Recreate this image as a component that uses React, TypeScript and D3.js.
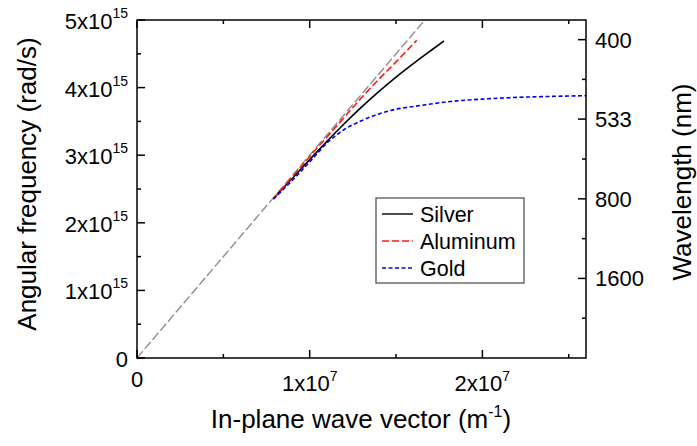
import React from "react";
import * as d3 from "d3";

// wave vector in 1e7 m^-1, angular frequency in 1e15 rad/s
const silverK = [0.79, 0.9, 1.0, 1.1, 1.2, 1.3, 1.4, 1.5, 1.6, 1.7, 1.778];
const silverW = [2.36, 2.66, 2.935, 3.205, 3.465, 3.71, 3.94, 4.155, 4.355, 4.545, 4.69];

const aluminumK = [0.79, 0.9, 1.0, 1.1, 1.2, 1.3, 1.407, 1.5, 1.62];
const aluminumW = [2.36, 2.68, 2.98, 3.27, 3.56, 3.85, 4.14, 4.38, 4.7];

const goldK = [0.79, 0.9, 1.0, 1.1, 1.2, 1.3, 1.4, 1.5, 1.6, 1.8, 2.0, 2.2, 2.4, 2.6];
const goldW = [2.35, 2.63, 2.9, 3.18, 3.38, 3.51, 3.61, 3.68, 3.72, 3.79, 3.83, 3.855, 3.87, 3.88];

// light line omega = c k
const lightK = [0, 2.6];
const lightW = [0, 7.8];

const xMajor = [0, 1, 2];
const xMinor = [0.5, 1.5, 2.5];
const yMajor = [0, 1, 2, 3, 4, 5];
const yMinor = [0.5, 1.5, 2.5, 3.5, 4.5];
const lambdaMajor = [400, 533, 800, 1600];
const lambdaMinor = [457, 640, 1067, 3200];

const legendNames = ["Silver", "Aluminum", "Gold"];

const W = 697;
const H = 446;
const m = { left: 137, right: 586, top: 20, bottom: 358 };
const font = "Arial, 'Liberation Sans', sans-serif";

// omega (1e15 rad/s) for a wavelength in nm
const omegaOf = (nm: number) => (2 * Math.PI * 2.998e8) / (nm * 1e-9) / 1e15;

const App = () => {
  const x = d3.scaleLinear().domain([0, 2.6]).range([m.left, m.right]);
  const y = d3.scaleLinear().domain([0, 5]).range([m.bottom, m.top]);

  const line = d3
    .line<[number, number]>()
    .x((d) => x(d[0]))
    .y((d) => y(d[1]))
    .curve(d3.curveMonotoneX);

  const pts = (ks: number[], ws: number[]) => ks.map((k, i) => [k, ws[i]] as [number, number]);

  const series = [
    { name: "Silver", d: pts(silverK, silverW), color: "#000000", dash: "none", w: 1.6 },
    { name: "Aluminum", d: pts(aluminumK, aluminumW), color: "#ff1a1a", dash: "7,3", w: 1.6 },
    { name: "Gold", d: pts(goldK, goldW), color: "#0000ff", dash: "4,2.5", w: 1.6 },
  ];

  const lx = 376;
  const ly = 198;

  return (
    <svg
      width={W}
      height={H}
      style={{ position: "absolute", left: 0, top: 0, background: "#fff" }}
      fontFamily={font}
    >
      <defs>
        <clipPath id="plot">
          <rect x={m.left} y={m.top} width={m.right - m.left} height={m.bottom - m.top} />
        </clipPath>
      </defs>

      {/* light line */}
      <path
        d={line(pts(lightK, lightW)) || ""}
        fill="none"
        stroke="#8c8c8c"
        strokeWidth={1.4}
        strokeDasharray="9,3"
        clipPath="url(#plot)"
      />

      {series.map((s) => (
        <path
          key={s.name}
          d={line(s.d) || ""}
          fill="none"
          stroke={s.color}
          strokeWidth={s.w}
          strokeDasharray={s.dash}
          clipPath="url(#plot)"
        />
      ))}

      {/* frame */}
      <rect
        x={m.left}
        y={m.top}
        width={m.right - m.left}
        height={m.bottom - m.top}
        fill="none"
        stroke="#000"
        strokeWidth={1.5}
      />

      {/* x ticks, bottom and top */}
      {xMajor.concat(xMinor).map((v) => {
        const len = xMajor.includes(v) ? 8 : 4;
        return (
          <g key={"xt" + v}>
            <line x1={x(v)} x2={x(v)} y1={m.bottom} y2={m.bottom - len} stroke="#000" strokeWidth={1.5} />
            <line x1={x(v)} x2={x(v)} y1={m.top} y2={m.top + len} stroke="#000" strokeWidth={1.5} />
          </g>
        );
      })}
      {xMajor.map((v) =>
        v === 0 ? (
          <text key={"xl" + v} x={x(v)} y={387} fontSize={22} textAnchor="middle">
            0
          </text>
        ) : (
          <text key={"xl" + v} x={x(v)} y={391} fontSize={22} textAnchor="middle">
            {v}x10
            <tspan fontSize={14} dy={-10}>
              7
            </tspan>
          </text>
        )
      )}

      {/* left y ticks */}
      {yMajor.concat(yMinor).map((v) => {
        const len = yMajor.includes(v) ? 8 : 4;
        return (
          <line key={"yt" + v} x1={m.left} x2={m.left + len} y1={y(v)} y2={y(v)} stroke="#000" strokeWidth={1.5} />
        );
      })}
      {yMajor.map((v) =>
        v === 0 ? (
          <text key={"yl" + v} x={128} y={y(v) + 9} fontSize={22} textAnchor="end">
            0
          </text>
        ) : (
          <text key={"yl" + v} x={128} y={y(v) + 9} fontSize={22} textAnchor="end">
            {v}x10
            <tspan fontSize={14} dy={-11}>
              15
            </tspan>
          </text>
        )
      )}

      {/* right wavelength ticks */}
      {lambdaMajor.concat(lambdaMinor).map((nm) => {
        const len = lambdaMajor.includes(nm) ? 8 : 4;
        const yy = y(omegaOf(nm));
        return <line key={"rt" + nm} x1={m.right} x2={m.right - len} y1={yy} y2={yy} stroke="#000" strokeWidth={1.5} />;
      })}
      {lambdaMajor.map((nm) => (
        <text key={"rl" + nm} x={595} y={y(omegaOf(nm)) + 8} fontSize={22}>
          {nm}
        </text>
      ))}

      {/* axis titles */}
      <text x={361} y={428} fontSize={26} textAnchor="middle">
        In-plane wave vector (m
        <tspan fontSize={16} dy={-11}>
          -1
        </tspan>
        <tspan dy={11}>)</tspan>
      </text>
      <text transform="translate(36,184) rotate(-90)" fontSize={26} textAnchor="middle">
        Angular frequency (rad/s)
      </text>
      <text transform="translate(691,182) rotate(-90)" fontSize={26} textAnchor="middle">
        Wavelength (nm)
      </text>

      {/* legend */}
      <rect x={lx} y={ly} width={148} height={85} fill="#fff" stroke="#555" strokeWidth={1.3} />
      {legendNames.map((name, i) => {
        const s = series.find((d) => d.name === name)!;
        const by = ly + 24 + i * 27;
        return (
          <g key={"lg" + name}>
            <line x1={382} x2={413} y1={by - 8} y2={by - 8} stroke={s.color} strokeWidth={1.4} strokeDasharray={s.dash} />
            <text x={420} y={by} fontSize={21.5}>
              {name}
            </text>
          </g>
        );
      })}
    </svg>
  );
};

export default App;
